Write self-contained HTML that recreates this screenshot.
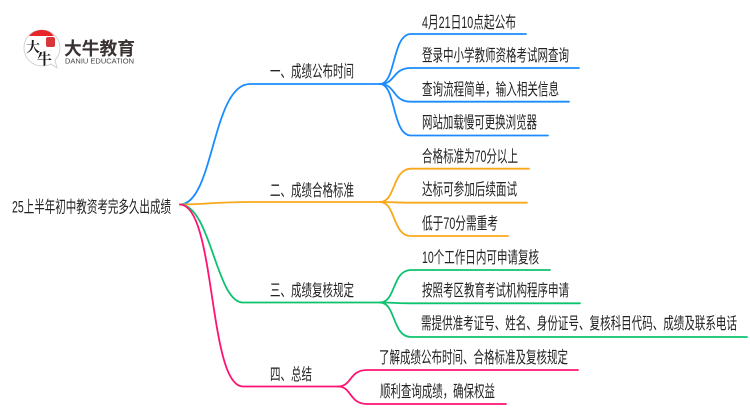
<!DOCTYPE html>
<html><head><meta charset="utf-8"><style>
html,body{margin:0;padding:0;background:#fff}
svg{display:block}
text{font-family:"Liberation Sans","Noto Sans CJK SC",sans-serif;font-size:16.5px;fill:#222}
path{fill:none;stroke-width:1.8;stroke-linecap:round}
</style></head><body>
<svg width="750" height="410" viewBox="0 0 750 410" xmlns="http://www.w3.org/2000/svg">
<!-- logo -->
<path d="M42 30 C31 30 24 38 24 48 C24 58 32 66 42 66 C46 66 49 65 51 64 L57 68 L55 60 C58 57 60 53 60 48 C60 38 52 30 42 30Z" style="stroke:#c8c8c8;stroke-width:.8"/>
<path d="M29 36 C33 31 38 30 42 30 C47 30 51 32 54 36 Z" style="fill:#e8262a;stroke:none"/>
<rect x="46" y="37" width="9" height="10" rx="2" fill="#d9363a"/>
<text x="26" y="52" style="font-family:'Noto Serif CJK SC',serif;font-size:14px;font-weight:700;fill:#1a1a1a">大</text>
<text x="37" y="64" style="font-family:'Noto Serif CJK SC',serif;font-size:15px;font-weight:700;fill:#1a1a1a">牛</text>
<text x="64" y="55" textLength="71" lengthAdjust="spacingAndGlyphs" style="font-size:18px;font-weight:700;fill:#3a3232">大牛教育</text>
<text x="65" y="63.500" textLength="69" lengthAdjust="spacingAndGlyphs" style="font-size:7px;fill:#444">DANIU EDUCATION</text>

<!-- branches -->
<path stroke="#1a8cff" d="M180 204.500 C214 204 212 84 250 84 L380 84"/>
<path stroke="#1a8cff" d="M380 84 C396 84 392 34 411 34 L526 34"/>
<path stroke="#1a8cff" d="M380 84 C396 84 392 68 411 68 L579 68"/>
<path stroke="#1a8cff" d="M380 84 C396 84 392 101.700 411 101.700 L569 101.700"/>
<path stroke="#1a8cff" d="M380 84 C396 84 392 135.500 411 135.500 L548 135.500"/>
<path stroke="#f9a81b" d="M180 204.500 C205 204.500 215 202 250 202 L380 202"/>
<path stroke="#f9a81b" d="M380 202 C396 202 392 168.700 411 168.700 L529 168.700"/>
<path stroke="#f9a81b" d="M380 202 C396 202 392 202.700 411 202.700 L527 202.700"/>
<path stroke="#f9a81b" d="M380 202 C396 202 392 236 411 236 L508 236"/>
<path stroke="#0cc26f" d="M180 204.500 C211 205 216 302.500 243 302.500 L380 302.500"/>
<path stroke="#0cc26f" d="M380 302.500 C396 302.500 392 270 411 270 L550 270"/>
<path stroke="#0cc26f" d="M380 302.500 C396 302.500 392 303.300 411 303.300 L580 303.300"/>
<path stroke="#0cc26f" d="M380 302.500 C396 302.500 392 337 411 337 L747 337"/>
<path stroke="#ff1272" d="M180 204.500 C216 205 208 386.500 243 386.500 L338 386.500"/>
<path stroke="#ff1272" d="M338 386.500 C352 386.500 349 370 367 370 L578 370"/>
<path stroke="#ff1272" d="M338 386.500 C352 386.500 349 404 367 404 L506 404"/>

<!-- labels -->
<text x="12" y="212.500" textLength="159" lengthAdjust="spacingAndGlyphs">25上半年初中教资考完多久出成绩</text>
<text x="270" y="77" textLength="84" lengthAdjust="spacingAndGlyphs">一、成绩公布时间</text>
<text x="270" y="196" textLength="84" lengthAdjust="spacingAndGlyphs">二、成绩合格标准</text>
<text x="270" y="296" textLength="84" lengthAdjust="spacingAndGlyphs">三、成绩复核规定</text>
<text x="270" y="380" textLength="42" lengthAdjust="spacingAndGlyphs">四、总结</text>

<text x="422" y="28" textLength="94" lengthAdjust="spacingAndGlyphs">4月21日10点起公布</text>
<text x="422" y="61" textLength="147" lengthAdjust="spacingAndGlyphs">登录中小学教师资格考试网查询</text>
<text x="422" y="95" textLength="137" lengthAdjust="spacingAndGlyphs">查询流程简单，输入相关信息</text>
<text x="422" y="128" textLength="115" lengthAdjust="spacingAndGlyphs">网站加载慢可更换浏览器</text>
<text x="422" y="162" textLength="96" lengthAdjust="spacingAndGlyphs">合格标准为70分以上</text>
<text x="422" y="195" textLength="95" lengthAdjust="spacingAndGlyphs">达标可参加后续面试</text>
<text x="422" y="229" textLength="76" lengthAdjust="spacingAndGlyphs">低于70分需重考</text>
<text x="422" y="263" textLength="117" lengthAdjust="spacingAndGlyphs">10个工作日内可申请复核</text>
<text x="422" y="296" textLength="147" lengthAdjust="spacingAndGlyphs">按照考区教育考试机构程序申请</text>
<text x="421" y="329" textLength="316" lengthAdjust="spacingAndGlyphs">需提供准考证号、姓名、身份证号、复核科目代码、成绩及联系电话</text>
<text x="379" y="363" textLength="189" lengthAdjust="spacingAndGlyphs">了解成绩公布时间、合格标准及复核规定</text>
<text x="380" y="397" textLength="115" lengthAdjust="spacingAndGlyphs">顺利查询成绩，确保权益</text>
</svg>
</body></html>
